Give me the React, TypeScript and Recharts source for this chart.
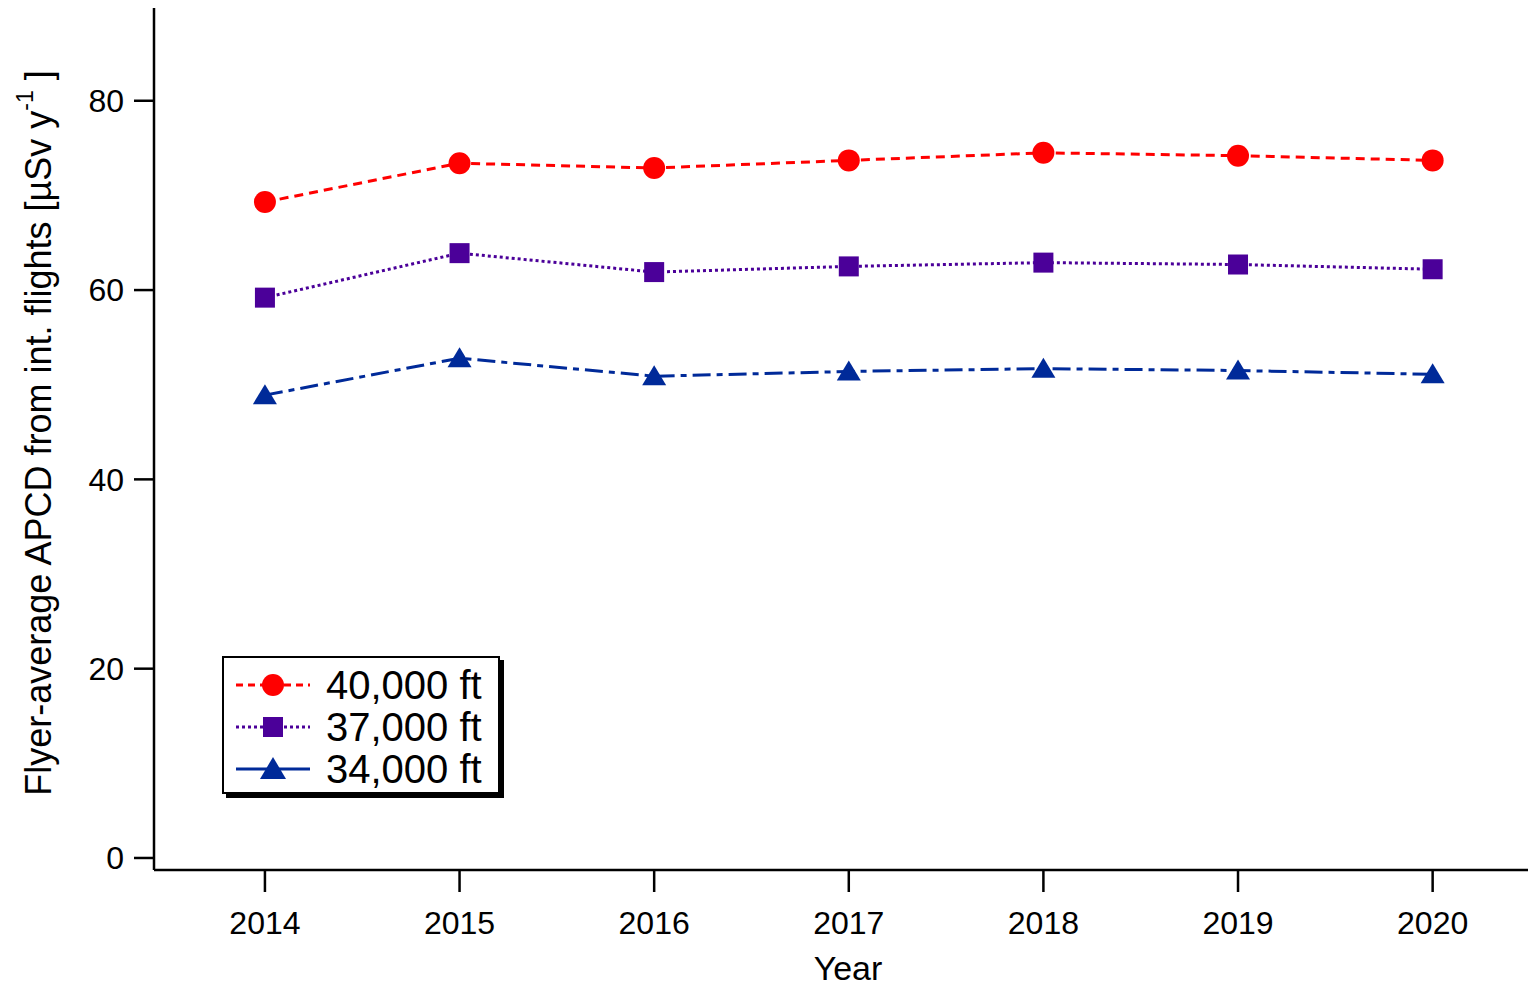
import { LineChart, Line, XAxis, YAxis, Legend } from "recharts";

const YEARS = [2014, 2015, 2016, 2017, 2018, 2019, 2020];
const FT40 = [69.3, 73.4, 72.9, 73.7, 74.5, 74.2, 73.7];
const FT37 = [59.2, 63.9, 61.9, 62.5, 62.9, 62.7, 62.2];
const FT34 = [48.9, 52.8, 50.9, 51.4, 51.7, 51.5, 51.1];
const Y_TICKS = [0, 20, 40, 60, 80];
const SERIES_NAMES = ["40,000 ft", "37,000 ft", "34,000 ft"];

const RED = "#ff0000";
const PURPLE = "#4b0099";
const BLUE = "#002a99";
const FONT = "'Liberation Sans', Arial, sans-serif";

const data = YEARS.map((year, i) => ({ year, ft40: FT40[i], ft37: FT37[i], ft34: FT34[i] }));

const circleDot = (p: any) => <circle key={`c-${p.index}`} cx={p.cx} cy={p.cy} r={11} fill={RED} />;
const squareDot = (p: any) => (
  <rect key={`s-${p.index}`} x={p.cx - 10} y={p.cy - 10} width={20} height={20} fill={PURPLE} />
);
const triDot = (p: any) => (
  <polygon
    key={`t-${p.index}`}
    points={`${p.cx},${p.cy - 11} ${p.cx + 12},${p.cy + 9} ${p.cx - 12},${p.cy + 9}`}
    fill={BLUE}
  />
);

const legendRows = [
  { name: SERIES_NAMES[0], color: RED, dash: "7 5", marker: "circle" },
  { name: SERIES_NAMES[1], color: PURPLE, dash: "3 3", marker: "square" },
  { name: SERIES_NAMES[2], color: BLUE, dash: "18 0", marker: "tri" },
];

function LegendBox() {
  return (
    <div
      style={{
        border: "2px solid #000",
        boxShadow: "4px 4px 0 #000",
        background: "#fff",
        width: 278,
        height: 138,
        boxSizing: "border-box",
        paddingTop: 6,
      }}
    >
      {legendRows.map((r) => (
        <div key={r.name} style={{ display: "flex", alignItems: "center", height: 42 }}>
          <svg width={100} height={42} style={{ marginLeft: 10 }}>
            <line x1={2} y1={21} x2={76} y2={21} stroke={r.color} strokeWidth={3} strokeDasharray={r.dash} />
            {r.marker === "circle" && <circle cx={39} cy={21} r={11} fill={r.color} />}
            {r.marker === "square" && <rect x={29} y={11} width={20} height={20} fill={r.color} />}
            {r.marker === "tri" && <polygon points="39,9 52,31 26,31" fill={r.color} />}
          </svg>
          <span style={{ fontFamily: FONT, fontSize: 40, color: "#000", marginLeft: -8, lineHeight: "42px" }}>
            {r.name}
          </span>
        </div>
      ))}
    </div>
  );
}

export default function App() {
  return (
    <div style={{ position: "absolute", left: 0, top: 0, background: "#fff" }}>
      <LineChart width={1536} height={987} data={data} margin={{ top: 8, right: 8, bottom: 57, left: 54 }}>
        <XAxis
          dataKey="year"
          type="number"
          domain={[2013.43, 2020.49]}
          ticks={YEARS}
          allowDataOverflow
          height={60}
          stroke="#000"
          strokeWidth={2.5}
          tickSize={22}
          tickMargin={19}
          tick={{ fill: "#000", fontSize: 32, fontFamily: FONT }}
          label={{
            content: () => (
              <text x={848} y={980} textAnchor="middle" fontSize={34} fontFamily={FONT} fill="#000">
                Year
              </text>
            ),
          }}
        />
        <YAxis
          type="number"
          domain={[-1.27, 89.8]}
          ticks={Y_TICKS}
          allowDataOverflow
          width={100}
          stroke="#000"
          strokeWidth={2.5}
          tickSize={20}
          tickMargin={10}
          tick={{ fill: "#000", fontSize: 32, fontFamily: FONT }}
          label={{
            content: () => (
              <text
                x={0}
                y={0}
                transform="translate(51, 433) rotate(-90)"
                textAnchor="middle"
                fontSize={36}
                fontFamily={FONT}
                fill="#000"
              >
                Flyer-average APCD from int. flights [µSv y
                <tspan fontSize={23} dy={-18}>
                  -1
                </tspan>
                <tspan dy={18}> ]</tspan>
              </text>
            ),
          }}
        />
        <Legend
          layout="vertical"
          align="center"
          verticalAlign="middle"
          content={() => <LegendBox />}
          wrapperStyle={{ position: "absolute", left: 222, top: 656, width: "auto" }}
        />
        <Line
          dataKey="ft40"
          stroke={RED}
          strokeWidth={3}
          strokeDasharray="9 6"
          dot={circleDot}
          activeDot={false}
          isAnimationActive={false}
        />
        <Line
          dataKey="ft37"
          stroke={PURPLE}
          strokeWidth={3}
          strokeDasharray="3 3"
          dot={squareDot}
          activeDot={false}
          isAnimationActive={false}
        />
        <Line
          dataKey="ft34"
          stroke={BLUE}
          strokeWidth={3}
          strokeDasharray="18 6 6 6"
          dot={triDot}
          activeDot={false}
          isAnimationActive={false}
        />
      </LineChart>
    </div>
  );
}
